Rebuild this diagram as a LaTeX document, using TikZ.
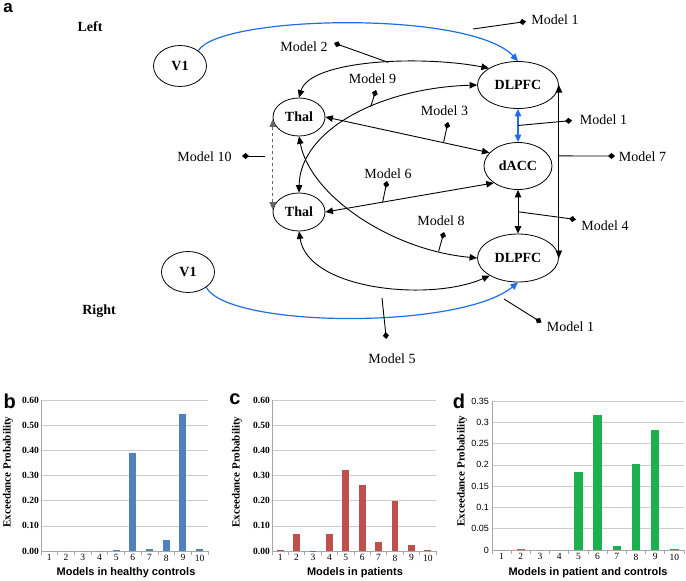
\documentclass[tikz,border=0pt]{standalone}
\usepackage{fontspec}
\setmainfont{Liberation Serif}
\setsansfont{Liberation Sans}
\usetikzlibrary{arrows.meta, shapes.geometric, positioning}
\definecolor{linkblue}{RGB}{30,110,230}
\definecolor{barblue}{RGB}{79,129,189}
\definecolor{barred}{RGB}{192,80,77}
\definecolor{bargreen}{RGB}{29,176,78}
\tikzset{
  roi/.style={ellipse, draw, line width=0.8pt, inner sep=0pt, font=\bfseries\fontsize{14}{14}\selectfont},
  link/.style={line width=0.9pt},
  bluelink/.style={linkblue, line width=1.2pt},
  pin/.style={-{Diamond[length=7pt,width=6pt]}, line width=0.9pt},
  mlabel/.style={font=\fontsize{14}{14}\selectfont, inner sep=0pt},
  side/.style={font=\bfseries\fontsize{14}{14}\selectfont, inner sep=0pt},
  panel/.style={font=\sffamily\bfseries\fontsize{20}{20}\selectfont, inner sep=0pt},
  gridline/.style={gray!40, line width=0.6pt},
  axisline/.style={gray!70, line width=0.7pt},
  ticklab/.style={font=\bfseries\fontsize{9.5}{10}\selectfont, inner sep=2pt},
  catlab/.style={font=\fontsize{9.5}{10}\selectfont, inner sep=3.5pt},
  ytitle/.style={font=\bfseries\fontsize{11}{12}\selectfont, rotate=90, inner sep=0pt},
  xtitle/.style={font=\sffamily\bfseries\fontsize{11}{12}\selectfont, inner sep=0pt},
}
\begin{document}
\begin{tikzpicture}[x=1pt, y=-1pt, >={Triangle[length=7.5pt,width=6.5pt]}]
  \useasboundingbox (0,0) rectangle (686,581);
  % a: network of regions
  \node[panel, font=\sffamily\bfseries\fontsize{17}{17}\selectfont] (pa) at (8,8) {a};
  \node[side] (left) at (90,27) {Left};
  \node[side] (right) at (99,311) {Right};
  \node[roi, minimum width=53pt, minimum height=41pt] (V1L) at (180,66) {V1};
  \node[roi, minimum width=53pt, minimum height=41pt] (V1R) at (188,272) {V1};
  \node[roi, minimum width=52pt, minimum height=38pt] (ThalL) at (299,117) {Thal};
  \node[roi, minimum width=52pt, minimum height=38pt] (ThalR) at (299,212) {Thal};
  \node[roi, minimum width=81pt, minimum height=47pt] (DLPFCL) at (518,85) {DLPFC};
  \node[roi, minimum width=68pt, minimum height=47pt] (dACC) at (518,166) {dACC};
  \node[roi, minimum width=81pt, minimum height=48pt] (DLPFCR) at (518,258) {DLPFC};

  % connections
  \draw[bluelink, ->] (V1L.40) .. controls (220,15) and (470,10) .. (DLPFCL.north);
  \draw[bluelink, ->] (V1R.-40) .. controls (228,328) and (460,330) .. (DLPFCR.south);
  \draw[bluelink, <->] (DLPFCL.south) -- (dACC.north) coordinate[pos=0.5] (p1b);
  \draw[link, <->] (dACC.south) -- (DLPFCR.north) coordinate[pos=0.5] (p4);
  \draw[link, <->] (DLPFCR.east) -- (DLPFCL.east) coordinate[pos=0.59] (p7);
  \draw[link, <->] (ThalL.north) .. controls (310,60) and (420,55) .. (DLPFCL.150) coordinate[pos=0.57] (p2);
  \draw[link, <->] (ThalR.north) .. controls (300,130) and (380,88) .. (DLPFCL.west) coordinate[pos=0.59] (p9);
  \draw[link, <->] (ThalL.east) -- (dACC.155) coordinate[pos=0.72] (p3);
  \draw[link, <->] (ThalR.east) -- (dACC.215) coordinate[pos=0.34] (p6);
  \draw[link, <->] (ThalL.south) .. controls (310,195) and (390,250) .. (DLPFCR.west) coordinate[pos=0.85] (p8);
  \draw[link, <->] (ThalR.south) .. controls (308,290) and (430,302) .. (DLPFCR.212);
  \draw[link, <->, dashed, gray!80!black] (ThalR.175) -- (ThalL.185);

  % model pins
  \coordinate (p1a) at (473,29);
  \coordinate (p1c) at (504,299);
  \coordinate (p5) at (382,298);
  \coordinate (p10) at (265,156);
  \coordinate (t1a) at (526,21.5);
  \coordinate (t1b) at (572,120.5);
  \coordinate (t1c) at (541.5,322.5);
  \coordinate (t2) at (334,43);
  \coordinate (t3) at (448,122);
  \coordinate (t4) at (576,219.5);
  \coordinate (t5) at (386.3,339);
  \coordinate (t6) at (387,181);
  \coordinate (t7) at (615,156);
  \coordinate (t8) at (444,232);
  \coordinate (t9) at (376,90);
  \coordinate (t10) at (242,156);
  \draw[pin] (p1a) -- (t1a);
  \draw[pin] (p1b) -- (t1b);
  \draw[pin] (p1c) -- (t1c);
  \draw[pin] (p2) -- (t2);
  \draw[pin] (p3) -- (t3);
  \draw[pin] (p4) -- (t4);
  \draw[pin] (p5) -- (t5);
  \draw[pin] (p6) -- (t6);
  \draw[pin] (p7) -- (t7);
  \draw[pin] (p8) -- (t8);
  \draw[pin] (p9) -- (t9);
  \draw[pin] (p10) -- (t10);
  \node[mlabel] (m1a) at (555,20) {Model 1};
  \node[mlabel] (m1b) at (603.5,120) {Model 1};
  \node[mlabel] (m1c) at (570.5,327) {Model 1};
  \node[mlabel] (m2) at (304,47) {Model 2};
  \node[mlabel] (m3) at (444.5,111) {Model 3};
  \node[mlabel] (m4) at (605,226) {Model 4};
  \node[mlabel] (m5) at (392,359) {Model 5};
  \node[mlabel] (m6) at (388,174) {Model 6};
  \node[mlabel] (m7) at (642.5,157) {Model 7};
  \node[mlabel] (m8) at (441,221) {Model 8};
  \node[mlabel] (m9) at (372.5,79) {Model 9};
  \node[mlabel] (m10) at (204.5,157) {Model 10};

  % b: healthy controls
  \node[panel] (pb) at (9.7,401) {b};
  \node[ytitle] (yb) at (8,472) {Exceedance Probability};
  \node[xtitle] (xb) at (126,573) {Models in healthy controls};
  \begin{scope}[shift={(41,551)}, x=16.7pt, y=251.7pt]
    \foreach \v in {0.1,0.2,0.3,0.4,0.5,0.6}
      \draw[gridline] (0,\v) -- (10,\v);
    \draw[axisline] (0,0) -- (0,0.6);
    \draw[axisline] (0,0) -- (10,0);
    \foreach \i in {0,...,10}
      \draw[axisline] (\i,0) -- ++(0,-4pt);
    \foreach \v/\t in {0/0.00,0.1/0.10,0.2/0.20,0.3/0.30,0.4/0.40,0.5/0.50,0.6/0.60}
      \node[ticklab, left] at (0,\v) {\t};
    \foreach \i/\v in {1/0,2/0,3/0,4/0,5/0.004,6/0.388,7/0.006,8/0.045,9/0.545,10/0.008} {
      \fill[barblue] (\i-0.71,0) rectangle (\i-0.29,\v);
      \node[catlab, below] at (\i-0.5,0) {\i};
    }
  \end{scope}

  % c: patients
  \node[panel] (pc) at (235,399) {c};
  \node[ytitle] (yc) at (237,472) {Exceedance Probability};
  \node[xtitle] (xc) at (355,573) {Models in patients};
  \begin{scope}[shift={(272,551)}, x=16.4pt, y=251.7pt]
    \foreach \v in {0.1,0.2,0.3,0.4,0.5,0.6}
      \draw[gridline] (0,\v) -- (10,\v);
    \draw[axisline] (0,0) -- (0,0.6);
    \draw[axisline] (0,0) -- (10,0);
    \foreach \i in {0,...,10}
      \draw[axisline] (\i,0) -- ++(0,-4pt);
    \foreach \v/\t in {0/0.00,0.1/0.10,0.2/0.20,0.3/0.30,0.4/0.40,0.5/0.50,0.6/0.60}
      \node[ticklab, left] at (0,\v) {\t};
    \foreach \i/\v in {1/0.005,2/0.067,3/0.001,4/0.069,5/0.322,6/0.262,7/0.034,8/0.2,9/0.024,10/0.004} {
      \fill[barred] (\i-0.71,0) rectangle (\i-0.29,\v);
      \node[catlab, below] at (\i-0.5,0) {\i};
    }
  \end{scope}

  % d: patients and controls
  \node[panel] (pd) at (459,401) {d};
  \node[ytitle] (yd) at (462,471) {Exceedance Probability};
  \node[xtitle] (xd) at (588,573) {Models in patient and controls};
  \begin{scope}[shift={(492,550)}, x=19.2pt, y=425.7pt]
    \foreach \v in {0.05,0.1,0.15,0.2,0.25,0.3,0.35}
      \draw[gridline] (0,\v) -- (10,\v);
    \draw[axisline] (0,0) -- (0,0.35);
    \draw[axisline] (0,0) -- (10,0);
    \foreach \i in {0,...,10}
      \draw[axisline] (\i,0) -- ++(0,-4pt);
    \foreach \v/\t in {0/0,0.05/0.05,0.1/0.1,0.15/0.15,0.2/0.2,0.25/0.25,0.3/0.3,0.35/0.35}
      \node[ticklab, left, font=\sffamily\fontsize{9}{10}\selectfont, inner sep=3pt] at (0,\v) {\t};
    \foreach \i/\v in {1/0,2/0.002,3/0,4/0,5/0.183,6/0.317,7/0.009,8/0.201,9/0.281,10/0.002} {
      \fill[bargreen] (\i-0.715,0) rectangle (\i-0.285,\v);
      \node[catlab, below] at (\i-0.5,0) {\i};
    }
  \end{scope}
\end{tikzpicture}
\end{document}
